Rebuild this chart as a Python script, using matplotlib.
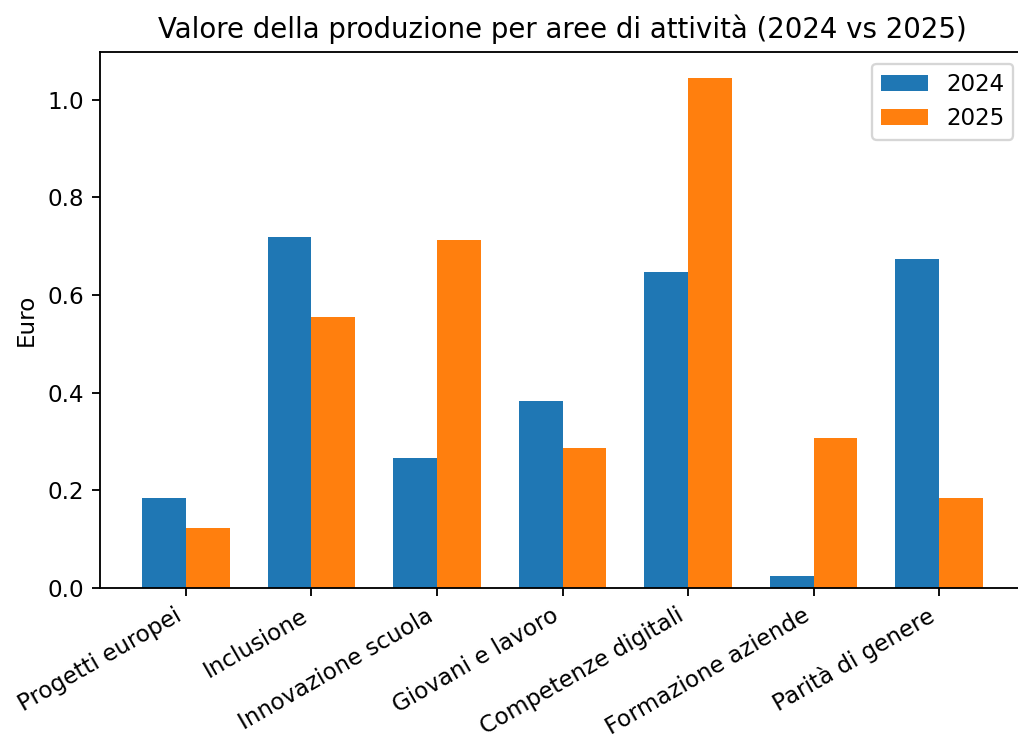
import numpy as np
import matplotlib
matplotlib.use("Agg")
import matplotlib.pyplot as plt

aree = ['Progetti europei', 'Inclusione', 'Innovazione scuola', 'Giovani e lavoro',
        'Competenze digitali', 'Formazione aziende', 'Parità di genere']
valori_2024 = [0.185, 0.719, 0.267, 0.383, 0.647, 0.024, 0.674]
valori_2025 = [0.123, 0.555, 0.712, 0.287, 1.045, 0.307, 0.185]

DPI = 166
fig = plt.figure(figsize=(1018 / DPI, 735 / DPI), dpi=DPI)
# the axes run slightly past the right edge of the canvas
ax = fig.add_axes([100 / 1018, 147 / 735, 925 / 1018, 536 / 735])

width = 0.35
x = np.arange(len(aree))
ax.bar(x - width / 2, valori_2024, width, label='2024')
ax.bar(x + width / 2, valori_2025, width, label='2025')

ax.set_title('Valore della produzione per aree di attività (2024 vs 2025)')
ax.set_ylabel('Euro')
ax.set_xticks(x)
ax.set_xticklabels(aree, rotation=30, ha='right')
ax.legend(loc='upper right')

fig.savefig('out.png', dpi=DPI)
